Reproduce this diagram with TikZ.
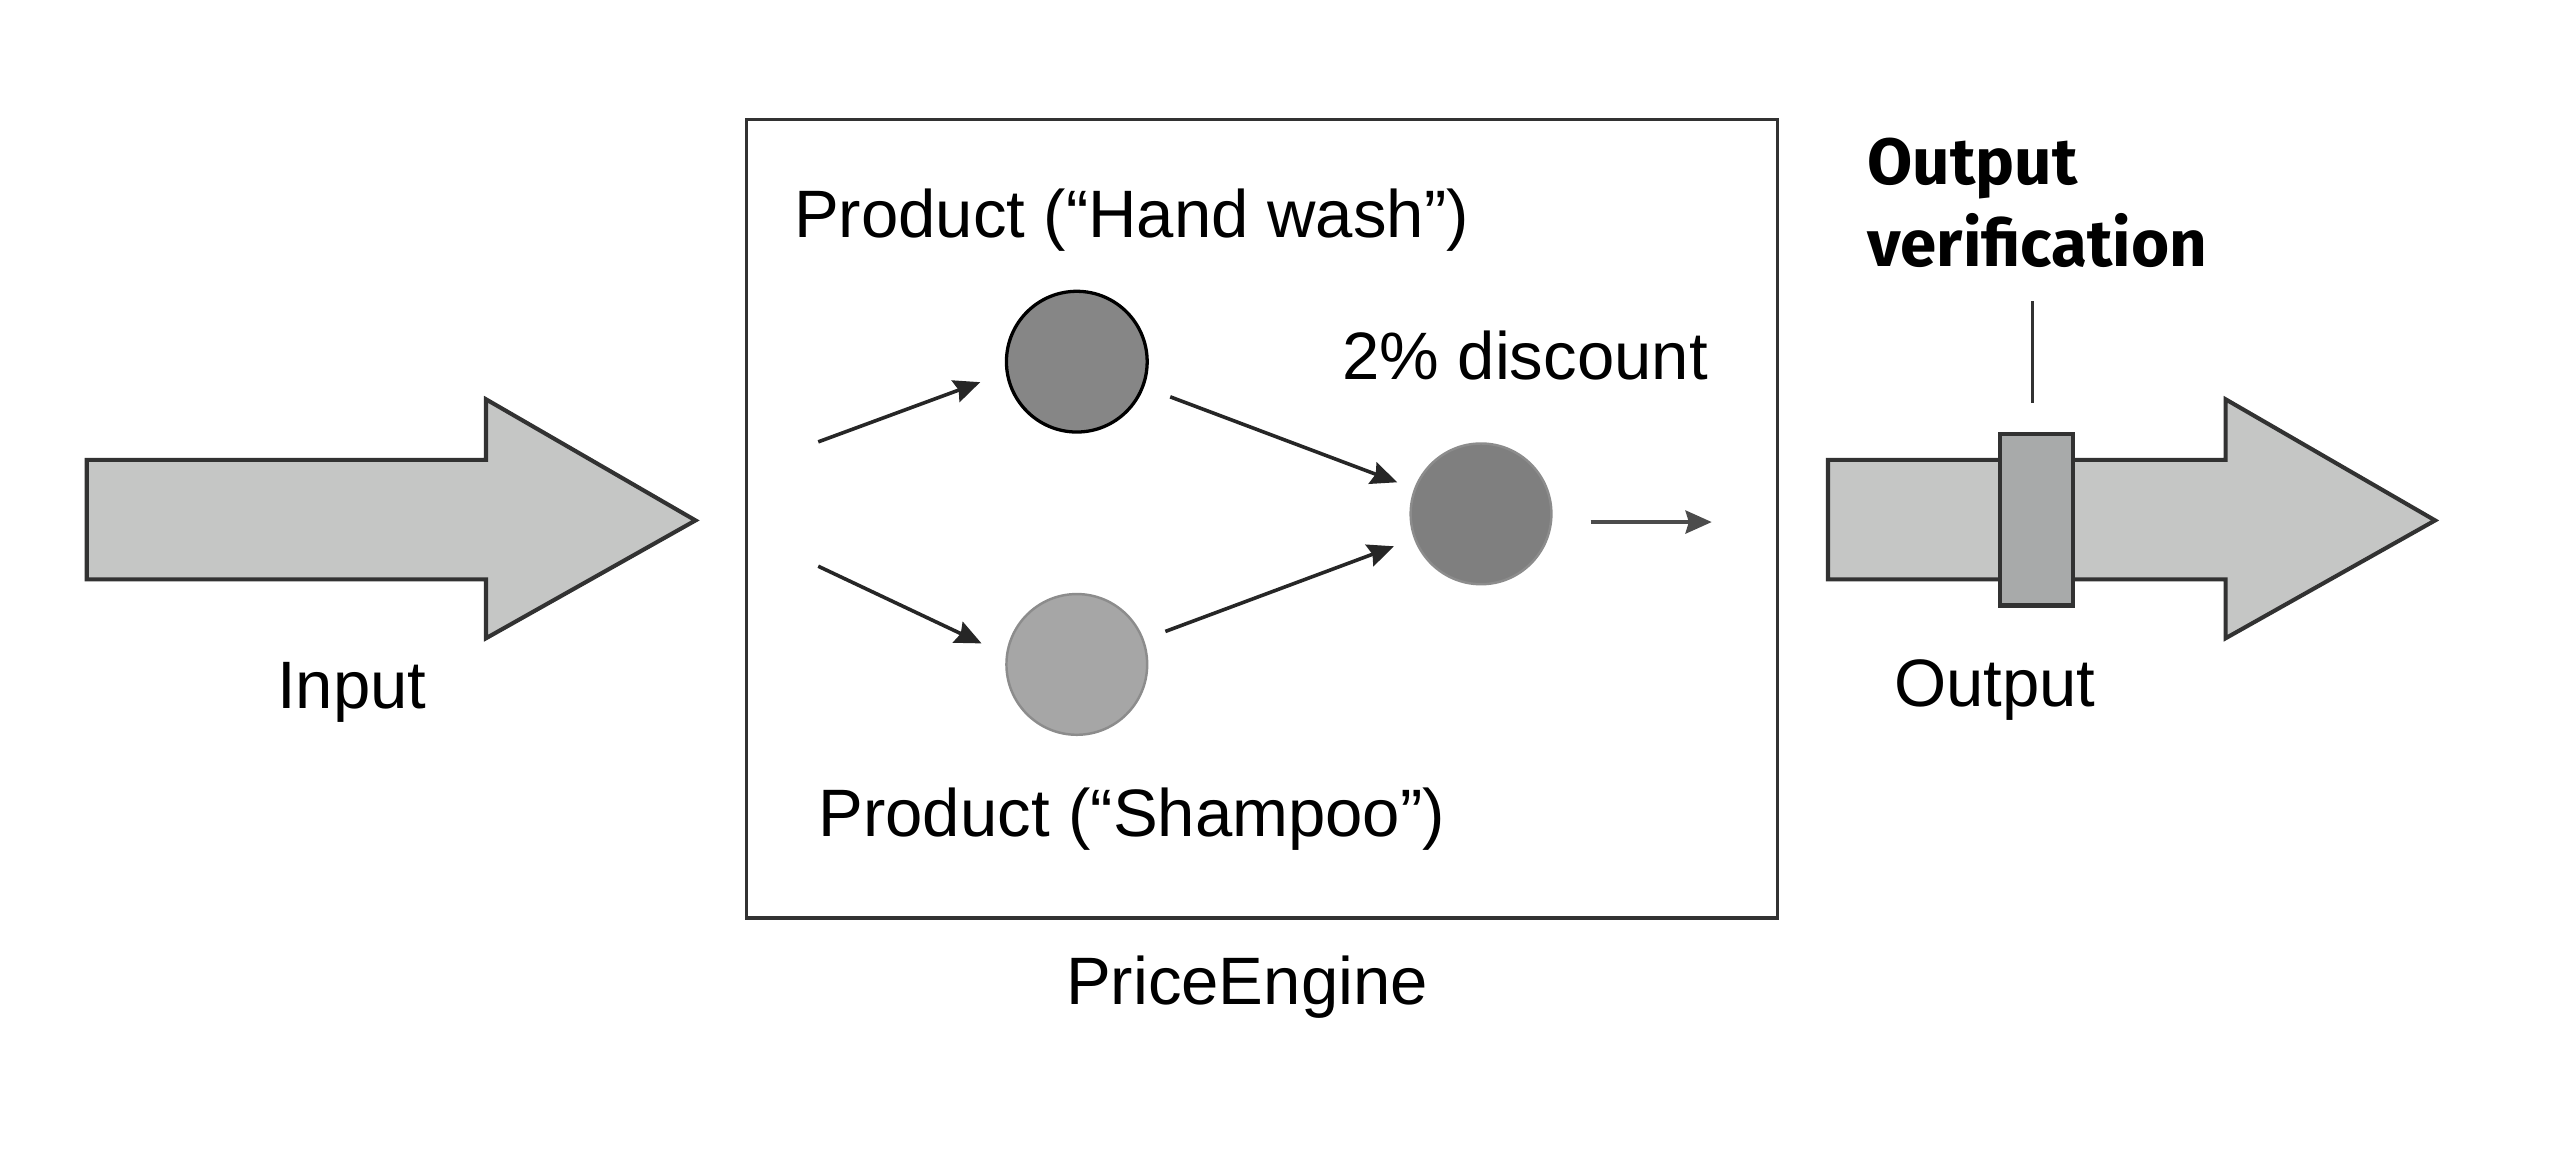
\documentclass[tikz,border=0pt]{standalone}
\usepackage{fontspec}
\setmainfont{Liberation Sans}
\newfontfamily\vfont{Fira Sans}
\usetikzlibrary{arrows.meta}
\definecolor{arrfill}{RGB}{197,198,197}
\definecolor{verfill}{RGB}{168,170,170}
\definecolor{darkc}{RGB}{134,134,134}
\definecolor{lightc}{RGB}{166,166,166}
\definecolor{midc}{RGB}{127,127,127}
\definecolor{edgec}{RGB}{50,50,50}
\definecolor{softedge}{RGB}{140,140,140}
\begin{document}
\begin{tikzpicture}[x=1pt,y=-1pt,
  lbl/.style={font=\fontsize{41}{49}\selectfont, inner sep=0pt, anchor=base},
  fat/.style={fill=arrfill, draw=edgec, line width=2.5pt, line join=miter},
  dot/.style={circle, minimum size=86pt, inner sep=0pt},
  flow/.style={line width=2.2pt, draw=black!85, -{Stealth[length=16pt,width=14pt,inset=2pt]}},
]
\useasboundingbox (0,0) rectangle (1568,710);
\fill[white] (0,0) rectangle (1568,710);

% input arrow
\draw[fat] (53,281) -- (297,281) -- (297,244) -- (425,318) -- (297,390) -- (297,354) -- (53,354) -- cycle;
\node[lbl] (input) at (215,433) {Input};

% engine box
\node[draw=edgec, line width=2pt, minimum width=630pt, minimum height=488pt, inner sep=0pt] (engine) at (771,317) {};
\node[lbl] (engname) at (762,614) {PriceEngine};

\node[lbl, anchor=base west] (hwlabel) at (485,145) {Product (“Hand wash”)};
\node[lbl, anchor=base west] (shlabel) at (500,511) {Product (“Shampoo”)};
\node[lbl, anchor=base west] (disclabel) at (820,232) {2\% discount};

\node[dot, fill=darkc, draw=black, line width=2pt] (c1) at (658,221) {};
\node[dot, fill=lightc, draw=softedge, line width=1.5pt] (c2) at (658,406) {};
\node[dot, fill=midc, draw=softedge, line width=1.5pt] (c3) at (905,314) {};

\coordinate (in1) at (500,270);
\coordinate (in2) at (500,346);
\coordinate (o1) at (972,319);
\coordinate (o2) at (1046,319);

\draw[flow, shorten >=16pt] (in1) -- ([yshift=-7pt]c1.west);
\draw[flow, shorten >=16pt] (in2) -- ([yshift=6pt]c2.west);
\draw[flow, shorten <=17pt, shorten >=11pt] (c1) -- (c3);
\draw[flow, shorten <=14pt, shorten >=13pt] (c2) -- (c3);
\draw[flow, draw=black!70, line width=2.6pt] (o1) -- (o2);

% output arrow
\draw[fat] (1117,281) -- (1360,281) -- (1360,244) -- (1488,318) -- (1360,390) -- (1360,354) -- (1117,354) -- cycle;
\node[fill=verfill, draw=edgec, line width=2.5pt, minimum width=45pt, minimum height=105pt, inner sep=0pt] (ver) at (1244.5,317.5) {};
\node[lbl] (output) at (1219,432) {Output};

\node[font=\vfont\bfseries\fontsize{40}{50}\selectfont, align=left, anchor=base west, inner sep=0pt] (verlabel) at (1141,163) {Output\\verification};
\coordinate (tick) at (1242,184);
\coordinate (tickend) at (1242,246);
\draw[line width=1.5pt, draw=edgec] (tick) -- (tickend);
\end{tikzpicture}
\end{document}
